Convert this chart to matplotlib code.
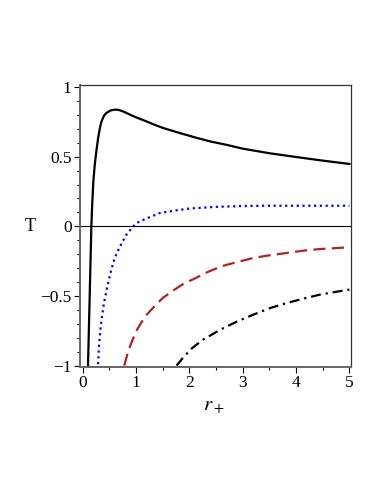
import matplotlib
matplotlib.use('Agg')
import matplotlib.pyplot as plt
from matplotlib.ticker import MultipleLocator

plt.rcParams['font.family'] = ['Liberation Serif', 'DejaVu Serif']
plt.rcParams['mathtext.fontset'] = 'stix'

# values
r_solid = [0.10, 0.163, 0.18, 0.20, 0.226, 0.26, 0.29, 0.32, 0.35, 0.40, 0.445, 0.52, 0.60, 0.65,
           0.70, 0.75, 0.80, 0.90, 1.0, 1.1, 1.2, 1.35, 1.51, 1.82, 2.14, 2.39, 2.7, 3.0, 3.5, 4.0, 4.5, 5.0]
T_solid = [-1.0, 0.0, 0.17, 0.32, 0.44, 0.55, 0.635, 0.70, 0.75, 0.795, 0.814, 0.832, 0.838, 0.837,
           0.833, 0.826, 0.818, 0.800, 0.783, 0.768, 0.753, 0.729, 0.706, 0.67, 0.635, 0.61, 0.585, 0.558,
           0.525, 0.498, 0.472, 0.448]

r_dot = [0.29, 0.306, 0.333, 0.363, 0.40, 0.45, 0.52, 0.60, 0.70, 0.82, 0.92, 1.01, 1.17,
         1.45, 1.76, 2.0, 2.5, 3.0, 3.5, 4.0, 4.5, 5.0]
T_dot = [-0.99, -0.86, -0.74, -0.646, -0.55, -0.454, -0.335, -0.227, -0.144, -0.06, -0.012, 0.024, 0.052,
         0.096, 0.115, 0.128, 0.14, 0.146, 0.148, 0.148, 0.148, 0.148]

r_dash = [0.78, 0.85, 0.92, 1.0, 1.1, 1.2, 1.35, 1.5, 1.7, 1.9, 2.1, 2.3, 2.6, 2.9, 3.2, 3.5,
          3.85, 4.15, 4.45, 4.75, 5.0]
T_dash = [-1.0, -0.90, -0.83, -0.755, -0.69, -0.635, -0.572, -0.515, -0.46, -0.41, -0.375, -0.335,
          -0.287, -0.256, -0.227, -0.208, -0.19, -0.174, -0.163, -0.156, -0.15]

r_dashdot = [1.76, 1.9, 2.05, 2.25, 2.58, 2.9, 3.2, 3.52, 3.83, 4.14, 4.45, 4.75, 5.0]
T_dashdot = [-1.0, -0.935, -0.875, -0.815, -0.742, -0.682, -0.634, -0.586, -0.55, -0.519, -0.49, -0.47, -0.454]

xticks = [0, 1, 2, 3, 4, 5]
yticks = [-1, -0.5, 0, 0.5, 1]
ytick_labels = ['\u22121', '\u22120.5', '0', '0.5', '1']

fig = plt.figure(figsize=(3.82, 4.94), dpi=100)
ax = fig.add_axes([80/382, 1-367/494, 271/382, 282/494])

ax.axhline(0, color='black', lw=0.8)
ax.plot(r_solid, T_solid, color='black', lw=1.6)
ax.plot(r_dot, T_dot, color='#0000ff', lw=1.6, linestyle=(0, (1, 1.6)))
ax.plot(r_dash, T_dash, color='#b22222', lw=1.6, linestyle=(0, (5.5, 2.8)))
ax.plot(r_dashdot, T_dashdot, color='black', lw=1.6, linestyle=(0, (4.5, 2.2, 1, 2.2)))

ax.set_xlim(-0.05, 5.03)
ax.set_ylim(-1.01, 1.015)

ax.set_xticks(xticks)
ax.set_xticklabels([str(v) for v in xticks])
ax.set_yticks(yticks)
ax.set_yticklabels(ytick_labels)
ax.xaxis.set_minor_locator(MultipleLocator(0.5))
ax.yaxis.set_minor_locator(MultipleLocator(0.1))
ax.tick_params(which='major', length=4, width=0.8, labelsize=12.5, pad=2)
ax.tick_params(which='minor', length=2.5, width=0.8)
ax.tick_params(top=False, right=False)

for s in ['left', 'bottom']:
    ax.spines[s].set_color('#666666')
    ax.spines[s].set_linewidth(1.4)
for s in ['top', 'right']:
    ax.spines[s].set_color('#333333')
    ax.spines[s].set_linewidth(0.9)

ax.set_ylabel('T', rotation=0, fontsize=13, va='center')
ax.yaxis.set_label_coords(-0.185, 0.5)
ax.set_xlabel(r'$r_+$', fontsize=15)
ax.xaxis.set_label_coords(0.494, -0.105)

fig.savefig('out.png', dpi=100)
